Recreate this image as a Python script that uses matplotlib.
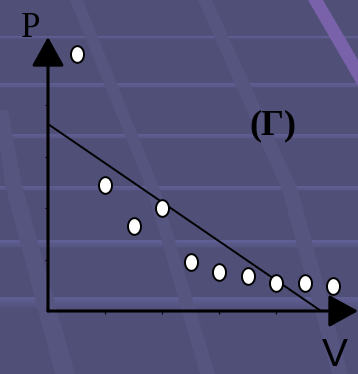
import numpy as np
import matplotlib
matplotlib.use('Agg')
import matplotlib.pyplot as plt
from matplotlib.path import Path
from matplotlib.patches import Polygon, Rectangle

# measured points (V, P)
v_points = [0.5, 1.0, 1.5, 2.0, 2.5, 3.0, 3.5, 4.0, 4.5, 5.0]
p_points = [5.0, 2.45, 1.65, 2.0, 0.95, 0.75, 0.68, 0.55, 0.55, 0.48]

# fitted line (Γ)
fit_v = [0.0, 4.79]
fit_p = [3.63, 0.0]

v_ticks = [1, 2, 3, 4]
p_ticks = [1, 2, 3, 4]

W, H = 358, 374
fig = plt.figure(figsize=(W / 100, H / 100), dpi=100)

# slide background
bg = fig.add_axes([0, 0, 1, 1])
bg.set_xlim(0, W)
bg.set_ylim(H, 0)
bg.axis('off')
bg.add_patch(Rectangle((0, 0), W, H, color='#4f4f78', zorder=0))

# horizontal light bands, brighter on top and fading down
for y0, h in [(36, 3), (83, 5), (134, 5), (186, 5), (240, 8), (297, 12)]:
    n = 6
    for i in range(n):
        bg.add_patch(Rectangle((0, y0 + i * h / n), W, h / n + 0.3,
                               color='#64639a', alpha=0.8 * (1 - i / n),
                               lw=0, zorder=1))

# diagonal streaks
streaks = [
    ([(70, 0), (83, 0), (160, 190), (215, 374), (200, 374), (147, 190)], '#555580'),
    ([(198, 0), (212, 0), (298, 190), (348, 374), (332, 374), (282, 190)], '#555580'),
    ([(-5, 110), (8, 110), (22, 185), (75, 374), (55, 374), (5, 185)], '#555580'),
    ([(308, 0), (323, 0), (358, 60), (358, 86)], '#7a62aa'),
]
for pts, c in streaks:
    bg.add_patch(Polygon(pts, closed=True, color=c, lw=0, zorder=2))

# plot axes: origin at the lower-left corner
x0, y0 = 48, 311
x_unit, y_unit = 57.0, 51.5
ax = fig.add_axes([x0 / W, (H - y0) / H, (W - x0) / W, (y0 - 37) / H])
ax.patch.set_alpha(0)
ax.set_xlim(0, (W - x0) / x_unit)
ax.set_ylim(0, (y0 - 37) / y_unit)
for s in ax.spines.values():
    s.set_visible(False)
ax.set_xticks(v_ticks)
ax.set_yticks(p_ticks)
ax.set_xticklabels([])
ax.set_yticklabels([])
ax.tick_params(length=2, width=0.8, color='black', direction='out')

# axes with arrow heads
arrow = dict(arrowstyle='-|>,head_length=0.9,head_width=0.5',
             mutation_scale=20, lw=2.2, color='black', shrinkA=0, shrinkB=0)
ax.annotate('', xy=(0, ax.get_ylim()[1]), xytext=(0, 0),
            arrowprops=arrow, annotation_clip=False)
ax.annotate('', xy=(ax.get_xlim()[1], 0), xytext=(0, 0),
            arrowprops=arrow, annotation_clip=False)

ax.plot(fit_v, fit_p, color='black', lw=1.4, zorder=3, clip_on=False)

# slightly tall oval markers
t = np.linspace(0, 2 * np.pi, 40)
oval = Path(np.column_stack([0.78 * np.cos(t), np.sin(t)]))
ax.plot(v_points, p_points, ls='none', marker=oval, markersize=12,
        markerfacecolor='white', markeredgecolor='black', markeredgewidth=1.4,
        zorder=4, clip_on=False)

fig.text(21 / W, 1 - 37 / H, 'P', family='Liberation Serif', fontsize=25,
         color='black', va='baseline', ha='left')
fig.text(273 / W, 1 - 126 / H, '(Γ)', family='Liberation Serif',
         fontweight='bold', fontsize=26, color='black', va='center', ha='center')
fig.text(322 / W, 0.5 / H, 'V', family='Liberation Sans', fontsize=28,
         color='black', va='bottom', ha='left')

fig.savefig('out.png', dpi=100)
